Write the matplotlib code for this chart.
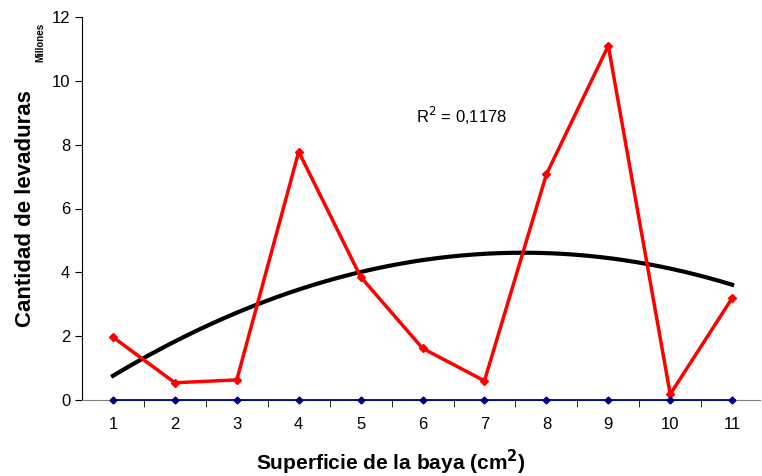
import numpy as np
import matplotlib
matplotlib.use("Agg")
import matplotlib.pyplot as plt

plt.rcParams['font.family'] = ['Liberation Sans', 'DejaVu Sans']

# superficie de la baya (cm2) y cantidad de levaduras (millones)
superficie = [1, 2, 3, 4, 5, 6, 7, 8, 9, 10, 11]
levaduras = [1.97, 0.54, 0.63, 7.78, 3.86, 1.62, 0.60, 7.07, 11.1, 0.18, 3.19]
base = [0, 0, 0, 0, 0, 0, 0, 0, 0, 0, 0]
r2_texto = "R$^2$ = 0,1178"

fig = plt.figure(figsize=(7.62, 4.76), dpi=100)
ax = fig.add_axes([82/762, 76/476, (760-82)/762, (400-17)/476])

# tendencia polinomica de orden 2
coef = np.polyfit(superficie, levaduras, 2)
xs = np.linspace(1, 11, 200)
ax.plot(xs, np.polyval(coef, xs), color='black', lw=3, zorder=2)

ax.plot(superficie, base, color='#000080', lw=1.3, marker='D', ms=3.5,
        zorder=5, clip_on=False)
ax.plot(superficie, levaduras, color='#ff0000', lw=2.5, marker='D', ms=4, zorder=4)

ax.set_xlim(0.5, 11.45)
ax.set_ylim(0, 12)
ax.set_yticks([0, 2, 4, 6, 8, 10, 12])
ax.set_xticks(superficie)
ax.set_xticks(np.arange(1.5, 11.5, 1), minor=True)
ax.tick_params(axis='x', which='major', length=0, pad=12, labelsize=12)
ax.tick_params(axis='x', which='minor', length=5, direction='out')
ax.tick_params(axis='y', length=5, direction='out', labelsize=12)

ax.spines['top'].set_visible(False)
ax.spines['right'].set_visible(False)
ax.spines['bottom'].set_color('#808080')

fig.text(391/762, 1 - 462/476, "Superficie de la baya (cm$^\\mathbf{2}$)",
         fontsize=15, fontweight='bold', ha='center', va='center')
ax.set_ylabel("Cantidad de levaduras", fontsize=16, fontweight='bold', labelpad=11)
fig.text(40/762, 1 - 42/476, "Millones", rotation=90, fontsize=7,
         fontweight='bold', ha='center', va='center')

ax.text(5.9, 8.9, r2_texto, fontsize=12, ha='left', va='center')

fig.savefig("out.png", dpi=100)
